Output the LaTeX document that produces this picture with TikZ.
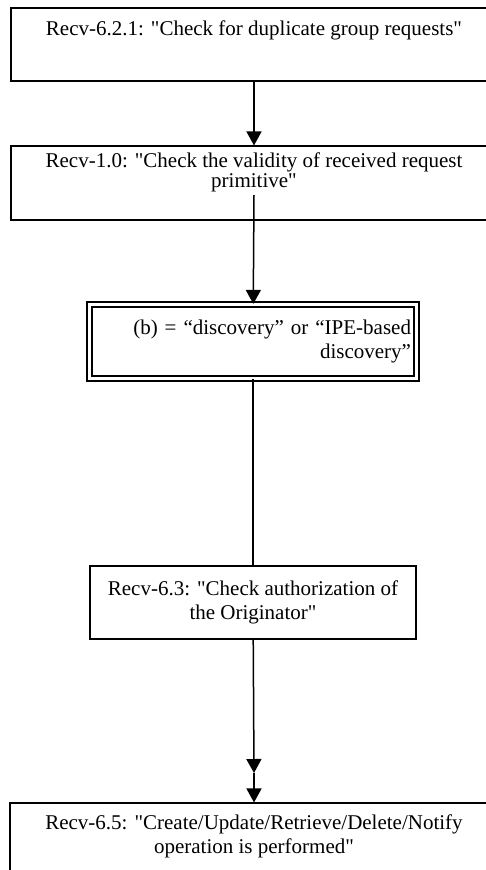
\documentclass[tikz,border=0pt]{standalone}
\usepackage{fontspec}
\setmainfont{Liberation Serif}
\usetikzlibrary{arrows.meta}
\begin{document}
\begin{tikzpicture}[x=1pt,y=-1pt]
    \def\fs{\fontsize{21}{24.5}\selectfont}
    \def\q{\textquotedbl}
    \useasboundingbox (0,0) rectangle (486,870);

    \tikzset{
        box/.style={draw, line width=1.1pt, inner sep=0pt, align=center, font=\fs},
        arr/.style={line width=1.5pt, -{Triangle[width=15pt,length=14pt]}}
    }

    \node[box, minimum width=486pt, minimum height=73pt] (1) at (254,44.5)
        {Recv-6.2.1: \q Check for duplicate group requests\q\\ \strut};
    \node[box, minimum width=486pt, minimum height=74pt, font=\fontsize{21}{20}\selectfont] (2) at (254,183)
        {Recv-1.0: \q Check the validity of received request\\ primitive\q\\ \strut};
    \node[box, double, double distance=3.8pt, line width=1.2pt, minimum width=327pt, minimum height=74pt,
          text width=316pt, align=right] (3) at (253,341.5)
        {(b) = “discovery” or “IPE-based\\ discovery”};
    \node[box, minimum width=326pt, minimum height=73pt] (4) at (253,602.5)
        {Recv-6.3: \q Check authorization of\\ the Originator\q};
    \node[box, minimum width=488pt, minimum height=94pt] (5) at (254,850)
        {Recv-6.5: \q Create/Update/Retrieve/Delete/Notify\\ operation is performed\q\\ \strut};

    \coordinate (c) at (254,195);
    \coordinate (m) at (254,773);

    \draw [arr] (1) -- (2);
    \draw [arr] (c) -- (3);
    \draw [line width=1.5pt] (3) -- (4);
    \draw [arr] (4) -- (m);
    \draw [arr] (m) -- (5);
\end{tikzpicture}
\end{document}
